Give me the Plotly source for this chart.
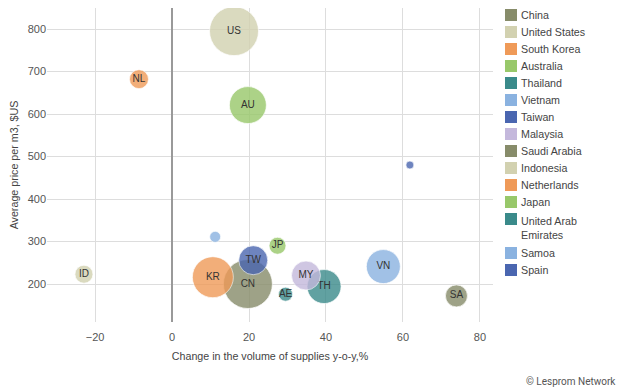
import plotly.graph_objects as go

countries = ["China", "United States", "South Korea", "Australia", "Thailand",
             "Vietnam", "Taiwan", "Malaysia", "Saudi Arabia", "Indonesia",
             "Netherlands", "Japan", "United Arab Emirates", "Samoa", "Spain"]
codes = ["CN", "US", "KR", "AU", "TH", "VN", "TW", "MY", "SA", "ID", "NL", "JP", "AE", "", ""]
supply_change = [19.7, 16.1, 10.6, 19.7, 39.5, 54.9, 21.1, 34.8, 73.9, -22.9, -8.6, 27.4, 29.5, 11.2, 61.8]
avg_price = [200, 795, 216, 621, 194, 241, 256, 220, 172, 223, 682, 290, 176, 311, 480]
volume = [49, 49, 41, 37, 34, 34, 29, 29, 22, 18, 19, 17, 14, 11, 8]
colors = ["#878c6a", "#d2d1b0", "#ef9a58", "#98c86a", "#3a8a8a", "#8ab2e0", "#4a66b0", "#c4b8dc",
          "#878c6a", "#d2d1b0", "#ef9a58", "#98c86a", "#3a8a8a", "#8ab2e0", "#4a66b0"]
legend_labels = ["China", "United States", "South Korea", "Australia", "Thailand",
                 "Vietnam", "Taiwan", "Malaysia", "Saudi Arabia", "Indonesia",
                 "Netherlands", "Japan", "United Arab<br>Emirates", "Samoa", "Spain"]

FONT = "Liberation Sans, Arial, sans-serif"
fig = go.Figure()

# bubbles drawn largest first (smaller on top)
order = sorted(range(len(countries)), key=lambda i: -volume[i])
for i in order:
    fig.add_trace(go.Scatter(
        x=[supply_change[i]], y=[avg_price[i]],
        mode="markers+text", text=[codes[i]], textposition="middle center",
        textfont=dict(size=10, color="#333333", family=FONT),
        marker=dict(size=[volume[i]], sizemode="diameter", sizeref=1,
                    color=colors[i], opacity=0.8,
                    line=dict(color="rgba(255,255,255,0.7)", width=1)),
        name=countries[i], showlegend=False, hoverinfo="name+x+y"))

# the page has an 8px body margin, so the figure is 8px smaller
W, H = 616, 382
L, R, T, B = 39, 131, 0, 68
PW, PH = W - L - R, H - T - B

def px_x(px):  # page pixel -> paper x
    return (px - 8 - L) / PW

def px_y(py):  # page pixel -> paper y
    return 1 - (py - 8 - T) / PH

# legend (square swatch + label)
LINE = 17.0
shapes, annotations = [], []
line = 0
for i, lab in enumerate(legend_labels):
    nlines = lab.count("<br>") + 1
    cy = 15 + LINE * line
    shapes.append(dict(type="rect", xref="paper", yref="paper",
                       x0=px_x(505), x1=px_x(517), y0=px_y(cy + 6), y1=px_y(cy - 6),
                       fillcolor=colors[i], line=dict(width=0), layer="above"))
    ty = cy + LINE * (nlines - 1) / 2
    annotations.append(dict(text=lab, xref="paper", yref="paper", x=px_x(519), y=px_y(ty),
                            xanchor="left", yanchor="middle", align="left", showarrow=False,
                            font=dict(size=10.7, color="#444444", family=FONT)))
    line += nlines

annotations.append(dict(text="© Lesprom Network", xref="paper", yref="paper",
                        x=px_x(618), y=px_y(381), xanchor="right", yanchor="middle",
                        font=dict(size=10, color="#555555", family="Roboto, sans-serif"),
                        showarrow=False))

fig.update_layout(
    width=W, height=H,
    margin=dict(l=L, r=R, t=T, b=B, autoexpand=False),
    paper_bgcolor="white", plot_bgcolor="white",
    font=dict(family=FONT, size=11, color="#444444"),
    showlegend=False,
    xaxis=dict(range=[-32.5, 83.4], tickvals=[-20, 0, 20, 40, 60, 80],
               showgrid=True, gridcolor="#dddddd", gridwidth=1,
               zeroline=True, zerolinecolor="#999999", zerolinewidth=2,
               showline=False, ticks="outside", ticklen=5, tickcolor="rgba(0,0,0,0)",
               automargin=False, tickfont=dict(size=11, color="#555555"),
               title=dict(text="Change in the volume of supplies y-o-y,%",
                          font=dict(size=10.7, color="#444444"), standoff=10)),
    yaxis=dict(range=[110.6, 849.4], tickvals=[200, 300, 400, 500, 600, 700, 800],
               showgrid=True, gridcolor="#dddddd", gridwidth=1,
               zeroline=False, showline=False, ticks="", automargin=False,
               tickfont=dict(size=11, color="#555555"),
               title=dict(text="Average price per m3, $US",
                          font=dict(size=10.7, color="#444444"), standoff=8)),
    shapes=shapes,
    annotations=annotations,
)

fig.write_html("out.html")
